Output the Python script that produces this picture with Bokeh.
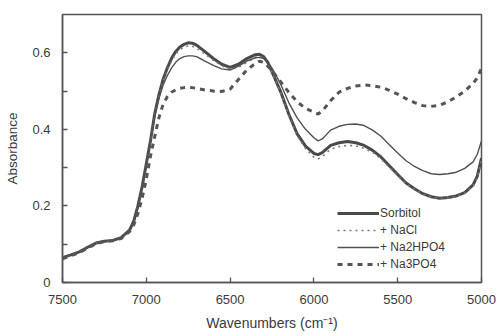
from bokeh.plotting import figure
from bokeh.models import Range1d, FixedTicker, Legend, LegendItem
from bokeh.embed import file_html
from bokeh.resources import INLINE

wavenumbers = [7500, 7450, 7400, 7350, 7300, 7250, 7200, 7150, 7100, 7075, 7050, 7025,
               7000, 6975, 6950, 6925, 6900, 6875, 6850, 6825, 6800, 6775, 6750, 6725,
               6700, 6650, 6600, 6550, 6500, 6450, 6400, 6350, 6325, 6300, 6275, 6250,
               6200, 6150, 6100, 6050, 6000, 5975, 5950, 5900, 5850, 5800, 5750, 5700,
               5650, 5600, 5550, 5500, 5450, 5400, 5350, 5300, 5250, 5200, 5150, 5100,
               5050, 5025, 5000]

sorbitol = [0.065, 0.072, 0.080, 0.092, 0.103, 0.108, 0.110, 0.117, 0.137, 0.160, 0.200, 0.250,
            0.310, 0.370, 0.440, 0.490, 0.530, 0.560, 0.585, 0.603, 0.615, 0.622, 0.626, 0.625,
            0.620, 0.603, 0.585, 0.570, 0.562, 0.570, 0.585, 0.595, 0.596, 0.590, 0.575, 0.550,
            0.500, 0.440, 0.388, 0.356, 0.337, 0.334, 0.339, 0.358, 0.365, 0.368, 0.365, 0.358,
            0.345, 0.328, 0.305, 0.282, 0.260, 0.245, 0.232, 0.224, 0.220, 0.222, 0.226, 0.235,
            0.255, 0.278, 0.325]

nacl = [0.065, 0.072, 0.080, 0.092, 0.103, 0.108, 0.110, 0.117, 0.137, 0.160, 0.200, 0.250,
        0.310, 0.370, 0.438, 0.487, 0.525, 0.555, 0.578, 0.596, 0.608, 0.615, 0.618, 0.617,
        0.612, 0.597, 0.580, 0.566, 0.558, 0.562, 0.575, 0.588, 0.590, 0.587, 0.573, 0.548,
        0.498, 0.437, 0.383, 0.350, 0.327, 0.323, 0.329, 0.348, 0.355, 0.358, 0.357, 0.350,
        0.340, 0.323, 0.301, 0.279, 0.258, 0.243, 0.231, 0.223, 0.219, 0.221, 0.225, 0.233,
        0.252, 0.274, 0.320]

na2hpo4 = [0.065, 0.072, 0.080, 0.092, 0.103, 0.108, 0.110, 0.117, 0.137, 0.160, 0.200, 0.250,
           0.310, 0.370, 0.435, 0.480, 0.515, 0.540, 0.560, 0.575, 0.585, 0.590, 0.592, 0.592,
           0.590, 0.578, 0.567, 0.558, 0.555, 0.565, 0.578, 0.587, 0.588, 0.585, 0.575, 0.560,
           0.520, 0.470, 0.430, 0.400, 0.378, 0.370, 0.375, 0.398, 0.408, 0.413, 0.414, 0.410,
           0.398, 0.382, 0.360, 0.338, 0.318, 0.303, 0.292, 0.284, 0.282, 0.284, 0.288, 0.298,
           0.315, 0.335, 0.370]

na3po4 = [0.062, 0.070, 0.078, 0.090, 0.101, 0.107, 0.109, 0.115, 0.133, 0.150, 0.180, 0.220,
          0.270, 0.330, 0.380, 0.430, 0.465, 0.485, 0.497, 0.503, 0.507, 0.509, 0.510, 0.509,
          0.507, 0.503, 0.500, 0.499, 0.505, 0.530, 0.555, 0.572, 0.578, 0.575, 0.565, 0.553,
          0.525, 0.497, 0.472, 0.455, 0.445, 0.440, 0.448, 0.475, 0.497, 0.507, 0.513, 0.516,
          0.514, 0.510, 0.502, 0.492, 0.480, 0.470, 0.462, 0.460, 0.463, 0.472, 0.485, 0.500,
          0.520, 0.535, 0.560]

series_names = ["Sorbitol", "+ NaCl", "+ Na2HPO4", "+ Na3PO4"]
x_ticks = [7500, 7000, 6500, 6000, 5500, 5000]
y_ticks = [0, 0.2, 0.4, 0.6]
y_minor_ticks = [0.1, 0.3, 0.5]

FONT = "Liberation Sans"
TXT = "#3a3a3a"
AX = "#555555"

p = figure(width=496, height=335, output_backend="svg", toolbar_location=None,
           x_range=Range1d(7500, 5000), y_range=Range1d(0, 0.7),
           min_border_left=62, min_border_right=15, min_border_top=14, min_border_bottom=53)

p.xgrid.visible = False
p.ygrid.visible = False
p.outline_line_color = AX
p.outline_line_width = 1.5
p.background_fill_color = "white"
p.border_fill_color = "white"

r1 = p.line(wavenumbers, sorbitol, line_color="#4a4a4a", line_width=3)
r2 = p.line(wavenumbers, nacl, line_color="#7a7a7a", line_width=1.6, line_dash="2 4")
r3 = p.line(wavenumbers, na2hpo4, line_color="#505050", line_width=1.4)
r4 = p.line(wavenumbers, na3po4, line_color="#555555", line_width=3, line_dash="5 5")

p.xaxis.ticker = FixedTicker(ticks=x_ticks)
p.yaxis.ticker = FixedTicker(ticks=y_ticks, minor_ticks=y_minor_ticks)
p.yaxis.major_label_overrides = {0: "0"}

for ax in (p.xaxis[0], p.yaxis[0]):
    ax.axis_line_color = AX
    ax.axis_line_width = 1.5
    ax.major_tick_line_color = AX
    ax.major_tick_line_width = 1.3
    ax.major_tick_in = 5
    ax.major_tick_out = 0
    ax.minor_tick_in = 5
    ax.minor_tick_out = 0
    ax.minor_tick_line_color = AX
    ax.minor_tick_line_width = 1.3
    ax.major_label_text_font = FONT
    ax.major_label_text_font_size = "13px"
    ax.major_label_text_color = TXT
    ax.axis_label_text_font = FONT
    ax.axis_label_text_font_size = "14px"
    ax.axis_label_text_font_style = "normal"
    ax.axis_label_text_color = TXT

p.xaxis.minor_tick_line_color = None
p.xaxis.axis_label = "Wavenumbers (cm\u207b\u00b9)"
p.yaxis.axis_label = "Absorbance"
p.yaxis.axis_label_text_font_size = "13.5px"
p.xaxis.major_label_standoff = 12
p.xaxis.axis_label_standoff = 8
p.yaxis.major_label_standoff = 12
p.yaxis.axis_label_standoff = 9

legend = Legend(items=[LegendItem(label=series_names[0], renderers=[r1]),
                       LegendItem(label=series_names[1], renderers=[r2]),
                       LegendItem(label=series_names[2], renderers=[r3]),
                       LegendItem(label=series_names[3], renderers=[r4])],
                location=(275, 10), glyph_width=42, glyph_height=16, label_height=17,
                label_standoff=1, spacing=0, padding=0, margin=0,
                label_text_font=FONT, label_text_font_size="12px", label_text_color=TXT,
                border_line_alpha=0, background_fill_alpha=0)
p.add_layout(legend)

open("out.html", "w").write(file_html(p, INLINE))
